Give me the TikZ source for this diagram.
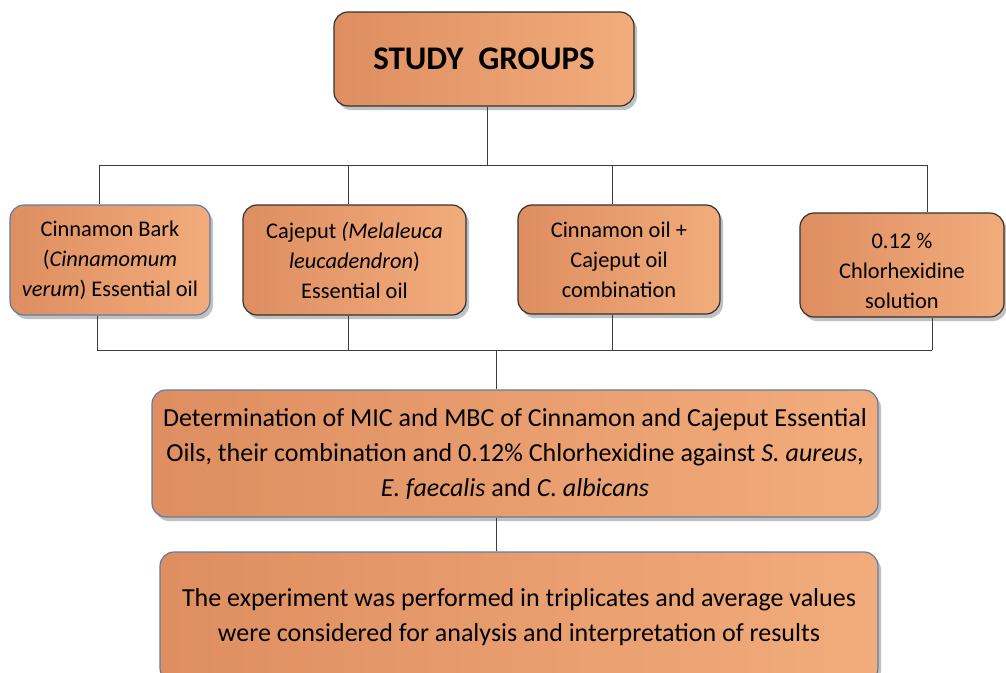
\documentclass[tikz,border=0pt]{standalone}
\usepackage{fontspec}
\setmainfont{Carlito}
\usetikzlibrary{shadows}
\definecolor{boxL}{RGB}{222,142,96}
\definecolor{boxM}{RGB}{226,148,101}
\definecolor{boxR}{RGB}{242,172,124}
\definecolor{blueedge}{RGB}{95,125,160}
\definecolor{darkedge}{RGB}{50,50,50}
\definecolor{linec}{RGB}{60,60,60}
\tikzset{
  box/.style={rounded corners=14pt, left color=boxL, middle color=boxM, right color=boxR,
    line width=1.2pt, align=center, inner sep=2pt,
    drop shadow={shadow xshift=3pt, shadow yshift=-4pt, opacity=0.35, fill=black!70}},
  bluebox/.style={box, draw=blueedge},
  darkbox/.style={box, draw=darkedge},
  small/.style={font=\fontsize{22.4}{30}\selectfont},
  big/.style={font=\fontsize{26}{35}\selectfont},
  conn/.style={draw=linec, line width=0.9pt}
}
\begin{document}
\begin{tikzpicture}[x=1pt,y=-1pt]
\useasboundingbox (0,0) rectangle (1006,672);
\clip (0,0) rectangle (1006,672);
\node[darkbox, minimum width=300pt, minimum height=94pt, font=\fontsize{33}{38}\selectfont\bfseries] (top) at (484,59) {STUDY\ \ GROUPS};

\node[bluebox, small, minimum width=200pt, minimum height=110pt] (n1) at (110,260)
  {Cinnamon Bark\\(\textit{Cinnamomum}\\\textit{verum}) Essential oil};
\node[darkbox, small, minimum width=223pt, minimum height=110pt] (n2) at (354.5,260)
  {Cajeput \textit{(Melaleuca}\\\textit{leucadendron})\\Essential oil};
\node[darkbox, small, minimum width=202pt, minimum height=109pt] (n3) at (619,259.5)
  {Cinnamon oil +\\Cajeput oil\\combination};
\node[darkbox, small, minimum width=204pt, minimum height=104pt] (n4) at (902,265)
  {\rule{0pt}{27pt}0.12 \%\\Chlorhexidine\\solution};

\node[bluebox, big, minimum width=726pt, minimum height=127pt] (n5) at (515,453.5)
  {Determination of MIC and MBC of Cinnamon and Cajeput Essential\\
   Oils, their combination and 0.12\% Chlorhexidine against \textit{S. aureus},\\
   \textit{E. faecalis} and \textit{C. albicans}};
\node[bluebox, big, minimum width=718pt, minimum height=130pt] (n6) at (519,617)
  {The experiment was performed in triplicates and average values\\
   were considered for analysis and interpretation of results};

\coordinate (ua) at (99,165);
\coordinate (ub) at (348,165);
\coordinate (uc) at (612,165);
\coordinate (ud) at (927,165);
\coordinate (ut) at (487,165);
\coordinate (la) at (97,350);
\coordinate (lb) at (348,350);
\coordinate (lc) at (612,350);
\coordinate (ld) at (932,350);
\coordinate (lm) at (496,350);

\draw[conn] (ut |- top.south) -- (ut);
\draw[conn] (ua) -- (ud);
\draw[conn] (ua) -- (ua |- n1.north);
\draw[conn] (ub) -- (ub |- n2.north);
\draw[conn] (uc) -- (uc |- n3.north);
\draw[conn] (ud) -- (ud |- n4.north);

\draw[conn] (la |- n1.south) -- (la);
\draw[conn] (lb |- n2.south) -- (lb);
\draw[conn] (lc |- n3.south) -- (lc);
\draw[conn] (ld |- n4.south) -- (ld);
\draw[conn] (la) -- (ld);
\draw[conn] (lm) -- (lm |- n5.north);
\draw[conn] (lm |- n5.south) -- (lm |- n6.north);
\end{tikzpicture}
\end{document}
